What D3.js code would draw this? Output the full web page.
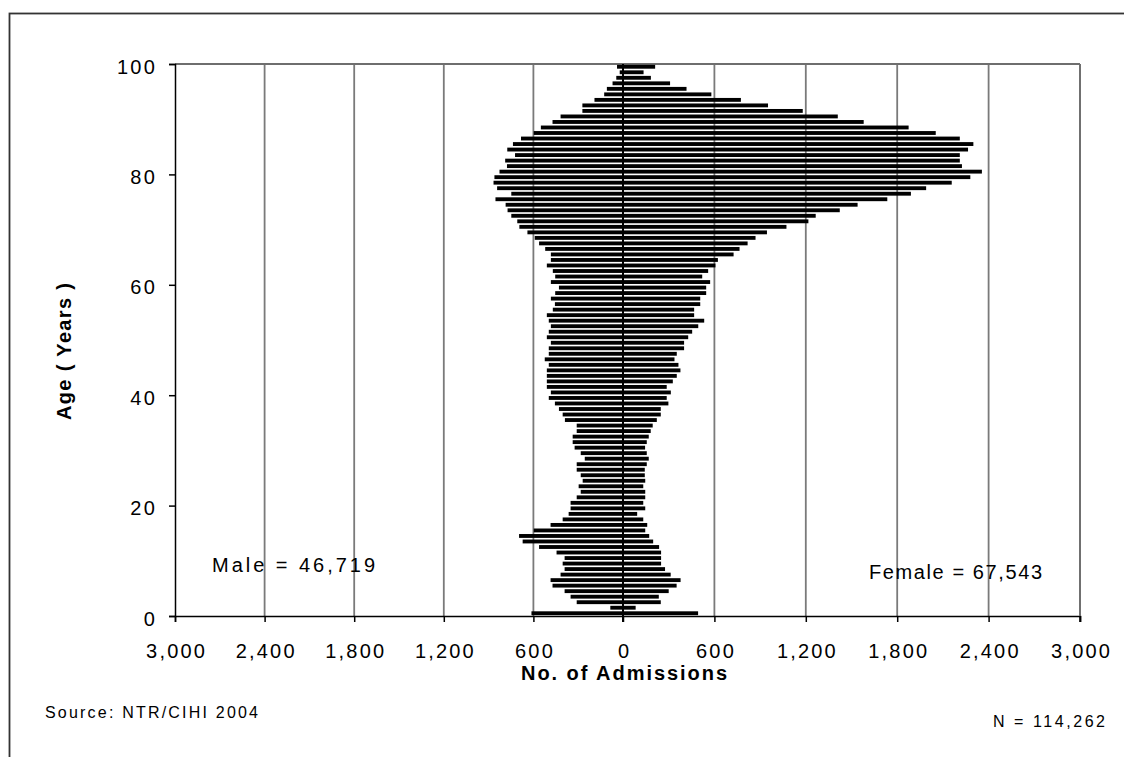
<!DOCTYPE html>
<html>
<head>
<meta charset="utf-8">
<script src="https://cdn.jsdelivr.net/npm/d3@7/dist/d3.min.js"></script>
<style>
  html, body { margin: 0; padding: 0; background: #fff; }
  svg { display: block; }
  text { font-family: "Liberation Sans", Arial, sans-serif; fill: #000; }
</style>
</head>
<body>
<svg id="chart" width="1124" height="757"></svg>
<script>
// Ages 0..99 (one bar per year of age)
const ages = d3.range(0, 100);

// Male admissions by age (index = age)
const maleValues = [
  613, 85, 310, 351, 391, 472, 485, 418, 391, 404,
  391, 445, 562, 672, 696, 598, 485, 404, 364, 351,
  351, 310, 283, 297, 270, 283, 310, 310, 256, 283,
  324, 337, 337, 310, 310, 389, 404, 429, 456, 497,
  483, 510, 510, 510, 510, 497, 524, 497, 497, 483,
  510, 497, 483, 497, 510, 470, 456, 483, 454, 429,
  483, 454, 470, 510, 483, 483, 521, 562, 591, 640,
  694, 708, 748, 773, 786, 854, 748, 843, 867, 861,
  827, 777, 789, 723, 775, 737, 683, 598, 550, 472,
  418, 272, 272, 191, 126, 108, 70, 45, 22, 40
];

// Female admissions by age (index = age)
const femaleValues = [
  493, 83, 248, 235, 300, 352, 378, 313, 276, 250,
  250, 250, 237, 198, 172, 146, 159, 133, 93, 146,
  133, 146, 146, 133, 146, 143, 143, 156, 169, 156,
  145, 156, 169, 182, 195, 222, 248, 248, 298, 287,
  314, 287, 327, 353, 377, 364, 338, 353, 401, 401,
  428, 454, 494, 533, 467, 467, 507, 507, 546, 546,
  572, 520, 559, 607, 623, 726, 765, 818, 870, 945,
  1073, 1217, 1265, 1423, 1540, 1735, 1890, 1990, 2158, 2280,
  2356, 2225, 2211, 2211, 2265, 2300, 2211, 2053, 1875, 1580,
  1410, 1180, 952, 774, 580, 417, 309, 183, 135, 211
];

const xTicks = [-3000, -2400, -1800, -1200, -600, 0, 600, 1200, 1800, 2400, 3000];
const yTicks = [0, 20, 40, 60, 80, 100];

const maleLabel = "Male = 46,719";
const femaleLabel = "Female = 67,543";
const xTitle = "No. of Admissions";
const yTitle = "Age ( Years )";
const sourceText = "Source: NTR/CIHI 2004";
const totalText = "N = 114,262";

// ---- layout ----
const L = 175, R = 1080, T = 64, B = 616, X0 = 623;
const svg = d3.select("#chart");

// outer frame
svg.append("rect")
  .attr("x", 9.5).attr("y", 13.5).attr("width", 1200).attr("height", 1000)
  .attr("fill", "none").attr("stroke", "#333").attr("stroke-width", 1.8);

const x = d3.scaleLinear().domain([-3000, 0, 3000]).range([L, X0, R]);
const y = d3.scaleLinear().domain([0, 100]).range([B, T]);
const pad = 0.3;
const yb = d3.scaleBand().domain(ages).range([B, T]).paddingInner(pad).paddingOuter(pad / 2);

// gridlines
svg.append("g").selectAll("line")
  .data(xTicks.filter(d => d !== -3000 && d !== 0))
  .join("line")
  .attr("x1", d => x(d)).attr("x2", d => x(d))
  .attr("y1", T).attr("y2", B)
  .attr("stroke", "#7a7a7a").attr("stroke-width", 1.8);

// top border
svg.append("line").attr("x1", L).attr("x2", R).attr("y1", T).attr("y2", T)
  .attr("stroke", "#6e6e6e").attr("stroke-width", 1.8);

// bars
const bars = svg.append("g");
bars.selectAll("rect.m").data(ages).join("rect").attr("class", "m")
  .attr("x", d => x(-maleValues[d]))
  .attr("width", d => x(0) - x(-maleValues[d]))
  .attr("y", d => yb(d))
  .attr("height", yb.bandwidth())
  .attr("fill", "#000");
bars.selectAll("rect.f").data(ages).join("rect").attr("class", "f")
  .attr("x", x(0))
  .attr("width", d => x(femaleValues[d]) - x(0))
  .attr("y", d => yb(d))
  .attr("height", yb.bandwidth())
  .attr("fill", "#000");

// zero line
svg.append("line").attr("x1", x(0)).attr("x2", x(0)).attr("y1", T).attr("y2", B + 6)
  .attr("stroke", "#000").attr("stroke-width", 2);

const FS = 20, LS = 2.2;

// x axis
const xAxis = d3.axisBottom(x).tickValues(xTicks).tickSize(6).tickPadding(22)
  .tickFormat(d => d3.format(",")(Math.abs(d)));
const gx = svg.append("g").attr("transform", `translate(0,${B})`).call(xAxis);
gx.select(".domain").attr("stroke", "#000").attr("stroke-width", 1.5);
gx.selectAll(".tick line").attr("stroke", "#000").attr("stroke-width", 1.5);
gx.selectAll(".tick text").attr("font-size", FS).attr("letter-spacing", LS)
  .attr("dx", LS / 2)
  .attr("font-family", "Liberation Sans, Arial, sans-serif");

// y axis
const yAxis = d3.axisLeft(y).tickValues(yTicks).tickSize(6).tickPadding(12);
const gy = svg.append("g").attr("transform", `translate(${L},0)`).call(yAxis);
gy.select(".domain").attr("stroke", "#000").attr("stroke-width", 1.5);
gy.selectAll(".tick line").attr("stroke", "#000").attr("stroke-width", 1.5);
gy.selectAll(".tick text").attr("font-size", FS).attr("letter-spacing", LS)
  .attr("dy", "0.45em")
  .attr("font-family", "Liberation Sans, Arial, sans-serif");

// right border
svg.append("line").attr("x1", R).attr("x2", R).attr("y1", T).attr("y2", B)
  .attr("stroke", "#6e6e6e").attr("stroke-width", 1.8);
svg.append("line").attr("x1", R).attr("x2", R).attr("y1", B).attr("y2", B + 6)
  .attr("stroke", "#000").attr("stroke-width", 1.5);

// annotations (widths fitted to the reference lettering)
function label(txt, xp, yp, size, width, opts = {}) {
  const t = svg.append("text").attr("x", xp).attr("y", yp)
    .attr("font-size", size)
    .attr("textLength", width).attr("lengthAdjust", "spacing")
    .text(txt);
  if (opts.bold) t.attr("font-weight", "bold");
  if (opts.transform) t.attr("transform", opts.transform);
  return t;
}
label(maleLabel, 212, 572, FS, 163);
label(femaleLabel, 869, 579, FS, 173);
label(xTitle, 521, 680, 20, 206, { bold: true });
label(yTitle, -420, 71, 20, 137, { bold: true, transform: "rotate(-90)" });
label(sourceText, 45, 718, 16, 213);
label(totalText, 993, 727, 16, 112);
</script>
</body>
</html>
